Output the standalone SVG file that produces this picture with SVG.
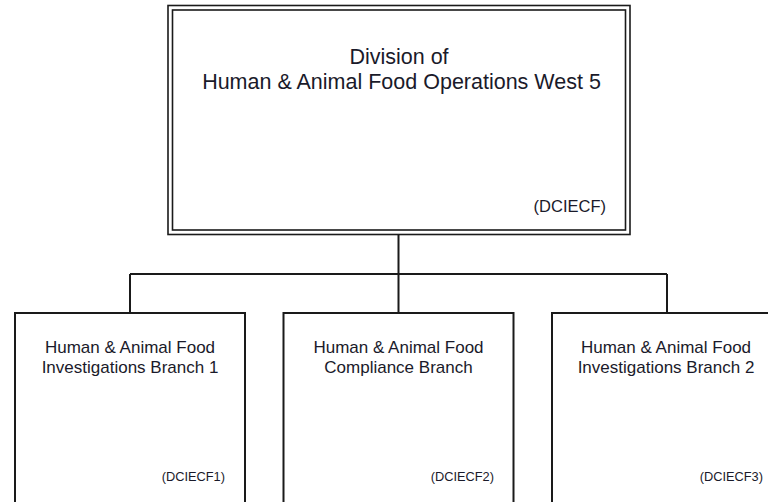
<svg xmlns="http://www.w3.org/2000/svg" width="768" height="502" viewBox="0 0 768 502">
<style>
.box{fill:#fff;stroke:#1a1a1a;stroke-width:2}
.dbl{fill:none;stroke:#1a1a1a;stroke-width:1.6}
.conn{fill:none;stroke:#1a1a1a;stroke-width:2}
text{font-family:"Liberation Sans",Arial,sans-serif;fill:#1a1a2a}
.t1{font-size:21.5px;text-anchor:middle}
.t2{font-size:17px;text-anchor:middle}
.c1{font-size:16.5px;text-anchor:end}
.c2{font-size:12.8px;text-anchor:end}
</style>
<rect width="768" height="502" fill="#fff"/>
<g id="connectors">
<path class="conn" d="M398.5 235V274M130 274H667M130 274V313M398.5 274V313M667 274V313"/>
</g>
<g id="division">
<rect x="168" y="5.5" width="462" height="229" class="dbl" fill="#fff"/>
<rect x="172.5" y="10" width="453" height="220" class="dbl"/>
<text class="t1" x="399" y="64">Division of</text>
<text class="t1" x="401.5" y="89">Human &amp; Animal Food Operations West 5</text>
<text class="c1" x="606" y="212">(DCIECF)</text>
</g>
<g id="branch1">
<rect x="15" y="313" width="230" height="200" class="box"/>
<text class="t2" x="130" y="353">Human &amp; Animal Food</text>
<text class="t2" x="130" y="373">Investigations Branch 1</text>
<text class="c2" x="225" y="481">(DCIECF1)</text>
</g>
<g id="branch2">
<rect x="283.5" y="313" width="230" height="200" class="box"/>
<text class="t2" x="398.5" y="353">Human &amp; Animal Food</text>
<text class="t2" x="398.5" y="373">Compliance Branch</text>
<text class="c2" x="494" y="481">(DCIECF2)</text>
</g>
<g id="branch3">
<rect x="552" y="313" width="230" height="200" class="box"/>
<text class="t2" x="666" y="353">Human &amp; Animal Food</text>
<text class="t2" x="666" y="373">Investigations Branch 2</text>
<text class="c2" x="763" y="481">(DCIECF3)</text>
</g>
</svg>
